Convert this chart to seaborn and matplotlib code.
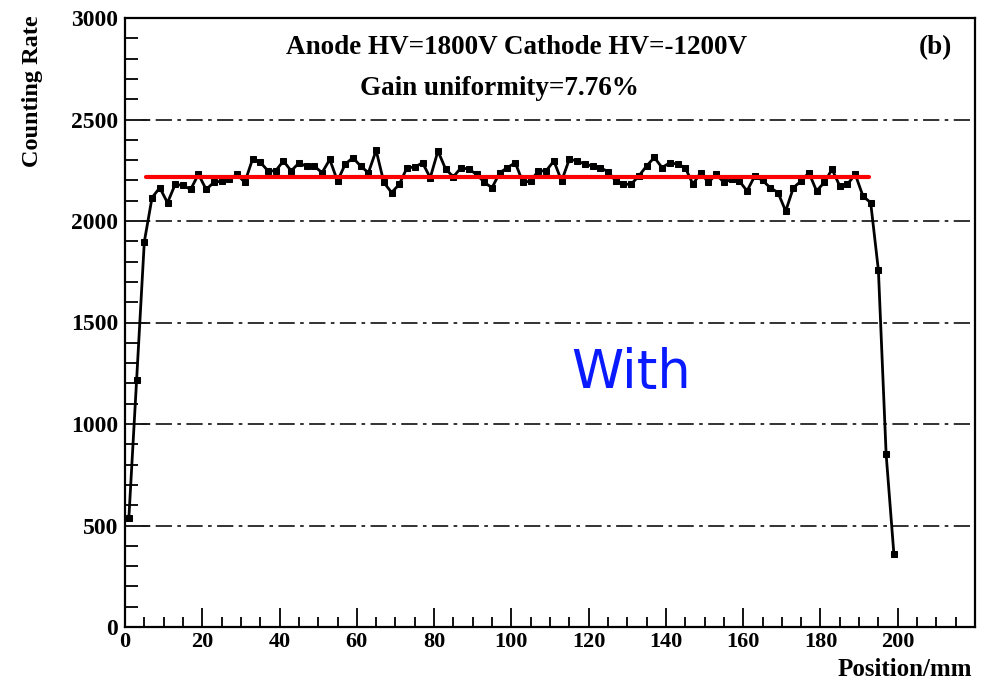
import numpy as np
import pandas as pd
import matplotlib
matplotlib.use("Agg")
import matplotlib.pyplot as plt
import seaborn as sns
from matplotlib.ticker import MultipleLocator

# ---- data ----
position_mm = list(range(1, 200, 2))
counting_rate = [
    538, 1215, 1898, 2115, 2164, 2090, 2181, 2175, 2156, 2230,
    2156, 2190, 2197, 2205, 2230, 2190, 2304, 2290, 2247, 2247,
    2296, 2247, 2285, 2270, 2270, 2238, 2303, 2197, 2280, 2312,
    2270, 2238, 2348, 2190, 2140, 2181, 2263, 2265, 2287, 2213,
    2345, 2255, 2218, 2263, 2255, 2230, 2190, 2164, 2238, 2263,
    2287, 2190, 2197, 2247, 2247, 2296, 2197, 2304, 2296, 2280,
    2271, 2263, 2243, 2197, 2181, 2181, 2222, 2271, 2313, 2263,
    2287, 2280, 2263, 2181, 2238, 2190, 2230, 2190, 2205, 2197,
    2148, 2222, 2200, 2164, 2140, 2049, 2164, 2197, 2238, 2148,
    2190, 2255, 2172, 2181, 2230, 2123, 2090, 1757, 851, 361,
]
fit_x = [5.4, 192.5]
fit_level = 2215

x_ticks = [0, 20, 40, 60, 80, 100, 120, 140, 160, 180, 200]
title_line1 = "Anode HV=1800V Cathode HV=-1200V"
title_line2 = "Gain uniformity=7.76%"
panel_tag = "(b)"
annotation = "With"
xlabel = "Position/mm"
ylabel = "Counting Rate"

df = pd.DataFrame({"x": position_mm, "y": counting_rate})
fit_df = pd.DataFrame({"x": fit_x, "y": [fit_level] * len(fit_x)})

sns.set_style("white")
plt.rcParams["font.family"] = ["Liberation Serif", "DejaVu Serif"]
plt.rcParams["text.color"] = "black"
plt.rcParams["axes.labelcolor"] = "black"

fig = plt.figure(figsize=(9.83, 6.82), dpi=100)
ax = fig.add_axes([125 / 983, 1 - 627 / 682, 850 / 983, 609 / 682])

# grid lines (dash-dot)
for yv in [500, 1000, 1500, 2000, 2500]:
    ax.axhline(yv, color="#222222", lw=1.3, dashes=(9, 3, 2, 3), zorder=1)

sns.lineplot(data=df, x="x", y="y", ax=ax, color="black", lw=2.0,
             marker="s", markersize=4.5, markeredgecolor="black", zorder=3)
sns.lineplot(data=fit_df, x="x", y="y", ax=ax, color="red", lw=3, zorder=4)

ax.set_xlim(0, 220)
ax.set_ylim(0, 3000)
ax.xaxis.set_major_locator(MultipleLocator(20))
ax.xaxis.set_minor_locator(MultipleLocator(5))
ax.yaxis.set_major_locator(MultipleLocator(500))
ax.yaxis.set_minor_locator(MultipleLocator(100))
ax.set_xticks(x_ticks)
ax.set_xticklabels([str(v) for v in x_ticks])

ax.tick_params(axis="both", which="both", direction="in", colors="black",
               width=1.3, bottom=True, left=True, top=False, right=False)
ax.tick_params(axis="x", which="major", length=14, pad=3.5, labelsize=16)
ax.tick_params(axis="x", which="minor", length=7)
ax.tick_params(axis="y", which="major", length=18, pad=5, labelsize=17)
ax.tick_params(axis="y", which="minor", length=9)
for lab in ax.get_xticklabels() + ax.get_yticklabels():
    lab.set_fontweight("bold")

for s in ax.spines.values():
    s.set_color("black")
    s.set_linewidth(1.6)

ax.set_xlabel(xlabel, loc="right", fontsize=18, fontweight="bold")
ax.set_ylabel(ylabel, loc="top", fontsize=17.5, fontweight="bold")
ax.xaxis.set_label_coords(0.997, -0.051)
ax.yaxis.set_label_coords(-0.096, 1.005)

ax.text(0.46, 0.951, title_line1, transform=ax.transAxes, ha="center", va="center",
        fontsize=19.5, fontweight="bold")
ax.text(0.441, 0.885, title_line2, transform=ax.transAxes, ha="center", va="center",
        fontsize=19.5, fontweight="bold")
ax.text(0.954, 0.951, panel_tag, transform=ax.transAxes, ha="center", va="center",
        fontsize=19.5, fontweight="bold")
ax.text(0.595, 0.417, annotation, transform=ax.transAxes, ha="center", va="center",
        fontsize=38, color="#0a1aff", family=["DejaVu Sans"])

fig.savefig("out.png", dpi=100)
